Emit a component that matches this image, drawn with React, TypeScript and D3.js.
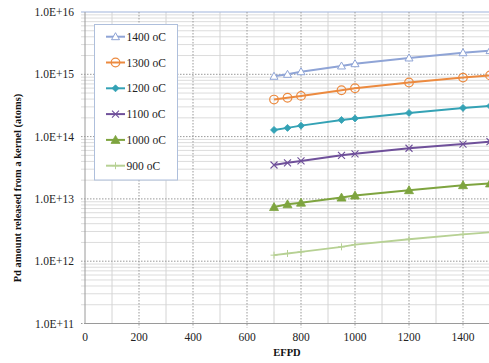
import React from "react";
import * as d3 from "d3";

const efpd = [700, 750, 800, 950, 1000, 1200, 1400, 1500];
const seriesNames = ["1400 oC", "1300 oC", "1200 oC", "1100 oC", "1000 oC", "900 oC"];
const s1400 = [9.3e14, 1.0e15, 1.1e15, 1.36e15, 1.48e15, 1.83e15, 2.22e15, 2.4e15];
const s1300 = [3.93e14, 4.2e14, 4.5e14, 5.55e14, 5.97e14, 7.4e14, 8.85e14, 9.6e14];
const s1200 = [1.28e14, 1.38e14, 1.5e14, 1.85e14, 1.96e14, 2.4e14, 2.89e14, 3.1e14];
const s1100 = [3.5e13, 3.8e13, 4.07e13, 5.0e13, 5.3e13, 6.5e13, 7.6e13, 8.3e13];
const s1000 = [7.4e12, 8.2e12, 8.7e12, 1.05e13, 1.13e13, 1.38e13, 1.66e13, 1.77e13];
const s900 = [1.25e12, 1.33e12, 1.41e12, 1.7e12, 1.85e12, 2.25e12, 2.7e12, 2.9e12];
const xTicks = [0, 200, 400, 600, 800, 1000, 1200, 1400];
const yTicks = [1e11, 1e12, 1e13, 1e14, 1e15, 1e16];
const yTickLabels = ["1.0E+11", "1.0E+12", "1.0E+13", "1.0E+14", "1.0E+15", "1.0E+16"];

const allSeries = [s1400, s1300, s1200, s1100, s1000, s900];
const colors = ["#8fa4d6", "#ec8a3f", "#34a2b5", "#6f509a", "#7ea43f", "#b7d194"];
const markers = ["triOpen", "circleOpen", "diamond", "cross", "triFilled", "plus"];

const W = 489, H = 363;
const left = 85, top = 12, bottom = 323.5;
const x = d3.scaleLinear().domain([0, 1400]).range([left, 463]);
const y = d3.scaleLog().domain([1e11, 1e16]).range([bottom, top]);
const right = x(1500);
const font = "Liberation Serif, Times New Roman, DejaVu Serif, serif";

function Marker({ type, cx, cy, color }: { type: string; cx: number; cy: number; color: string }) {
  switch (type) {
    case "triOpen":
      return <path d={`M${cx},${cy - 4}L${cx + 4},${cy + 3}L${cx - 4},${cy + 3}Z`} fill="#fff" stroke={color} strokeWidth={1} />;
    case "circleOpen":
      return <circle cx={cx} cy={cy} r={4.3} fill="none" stroke={color} strokeWidth={1.2} />;
    case "diamond":
      return <path d={`M${cx},${cy - 3.5}L${cx + 3.5},${cy}L${cx},${cy + 3.5}L${cx - 3.5},${cy}Z`} fill={color} stroke={color} strokeWidth={0.8} />;
    case "cross":
      return <path d={`M${cx - 3.5},${cy - 3.5}L${cx + 3.5},${cy + 3.5}M${cx - 3.5},${cy + 3.5}L${cx + 3.5},${cy - 3.5}`} stroke={color} strokeWidth={1.1} />;
    case "triFilled":
      return <path d={`M${cx},${cy - 4.5}L${cx + 4.5},${cy + 3.5}L${cx - 4.5},${cy + 3.5}Z`} fill={color} stroke={color} strokeWidth={0.8} />;
    case "plus":
      return <path d={`M${cx - 3.5},${cy}L${cx + 3.5},${cy}M${cx},${cy - 3.5}L${cx},${cy + 3.5}`} stroke={color} strokeWidth={1} />;
  }
  return null;
}

export default function App() {
  const minorY: number[] = [];
  for (let e = 11; e < 16; e++) for (let m = 2; m <= 9; m++) minorY.push(m * Math.pow(10, e));
  const minorX = d3.range(100, 1501, 200);
  const line = d3.line<number>().x((_, i) => x(efpd[i])).y((d) => y(d));
  const ts = { fontFamily: font };
  return (
    <svg width={W} height={H} style={{ position: "fixed", left: 0, top: 0, background: "#fff", fontFamily: font }}>
      <rect width={W} height={H} fill="#fff" />
      {minorY.map((v) => (
        <line key={"my" + v} x1={left - 4} x2={right} y1={y(v)} y2={y(v)} stroke="#dcdcdc" strokeWidth={1} />
      ))}
      {minorX.map((v) => (
        <line key={"mx" + v} x1={x(v)} x2={x(v)} y1={top} y2={bottom} stroke="#d4d4d4" strokeWidth={1} />
      ))}
      {yTicks.slice(0, -1).map((v) => (
        <line key={"gy" + v} x1={left - 4} x2={right} y1={y(v)} y2={y(v)} stroke="#999" strokeWidth={1} strokeDasharray="1.5,1.5" />
      ))}
      <line x1={left - 4} x2={right} y1={y(1e16)} y2={y(1e16)} stroke="#9fb4dc" strokeWidth={1.2} />
      {xTicks.slice(1).map((v) => (
        <line key={"gx" + v} x1={x(v)} x2={x(v)} y1={top} y2={bottom + 4} stroke="#999" strokeWidth={1} strokeDasharray="1.5,1.5" />
      ))}
      <line x1={left} x2={left} y1={top} y2={bottom} stroke="#9a9a9a" strokeWidth={1} />
      <line x1={left} x2={right} y1={bottom} y2={bottom} stroke="#9a9a9a" strokeWidth={1} />
      {yTicks.map((v, i) => (
        <text key={"yl" + v} x={74} y={y(v)} dy="0.35em" textAnchor="end" fontSize={11.5} fill="#222" style={ts}>
          {yTickLabels[i]}
        </text>
      ))}
      {xTicks.map((v) => (
        <text key={"xl" + v} x={x(v)} y={341} textAnchor="middle" fontSize={11.5} fill="#222" style={ts}>
          {v}
        </text>
      ))}
      <text x={287} y={356} textAnchor="middle" fontSize={10.5} fontWeight="bold" fill="#111" style={ts}>EFPD</text>
      <text transform={`translate(21,188) rotate(-90)`} textAnchor="middle" fontSize={10.5} fontWeight="bold" fill="#111" style={ts}>
        Pd amount released from a kernel (atoms)
      </text>
      {allSeries.map((s, si) => (
        <g key={"s" + si}>
          <path d={line(s) || ""} fill="none" stroke={colors[si]} strokeWidth={si === 5 ? 1.8 : 2} />
          {s.map((v, i) => (
            <Marker key={i} type={markers[si]} cx={x(efpd[i])} cy={y(v)} color={colors[si]} />
          ))}
        </g>
      ))}
      <rect x={94.5} y={24.5} width={83} height={155.5} fill="#fff" stroke="#aebfdc" strokeWidth={1} />
      {seriesNames.map((n, i) => {
        const ly = 36.7 + i * 25.8;
        return (
          <g key={"lg" + i}>
            <line x1={106} x2={125} y1={ly} y2={ly} stroke={colors[i]} strokeWidth={2} />
            <Marker type={markers[i]} cx={115.5} cy={ly} color={colors[i]} />
            <text x={126.5} y={ly} dy="0.35em" fontSize={11.5} fill="#222" style={ts}>{n}</text>
          </g>
        );
      })}
    </svg>
  );
}
